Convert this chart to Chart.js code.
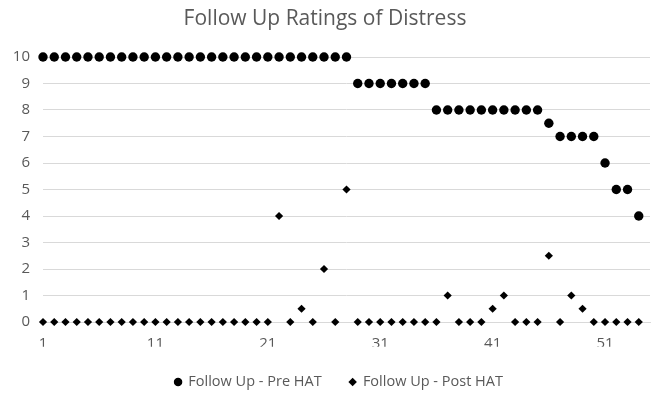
<!DOCTYPE html>
<html>
<head>
<meta charset="utf-8">
<script src="https://cdn.jsdelivr.net/npm/chart.js@4"></script>
<style>
  html, body { margin: 0; padding: 0; background: #ffffff; }
  #wrap { width: 661px; height: 395px; }
</style>
</head>
<body>
<div id="wrap"><canvas id="c" width="661" height="395"></canvas></div>
<script>
// Participant number (1..54)
const participants = [
  1, 2, 3, 4, 5, 6, 7, 8, 9, 10, 11, 12, 13, 14, 15, 16, 17, 18, 19, 20,
  21, 22, 23, 24, 25, 26, 27, 28, 29, 30, 31, 32, 33, 34, 35, 36, 37, 38, 39, 40,
  41, 42, 43, 44, 45, 46, 47, 48, 49, 50, 51, 52, 53, 54
];

// Distress rating before HAT
const preHAT = [
  10, 10, 10, 10, 10, 10, 10, 10, 10, 10, 10, 10, 10, 10, 10, 10, 10, 10, 10, 10,
  10, 10, 10, 10, 10, 10, 10, 10, 9, 9, 9, 9, 9, 9, 9, 8, 8, 8, 8, 8,
  8, 8, 8, 8, 8, 7.5, 7, 7, 7, 7, 6, 5, 5, 4
];

// Distress rating after HAT
const postHAT = [
  0, 0, 0, 0, 0, 0, 0, 0, 0, 0, 0, 0, 0, 0, 0, 0, 0, 0, 0, 0,
  0, 4, 0, 0.5, 0, 2, 0, 5, 0, 0, 0, 0, 0, 0, 0, 0, 1, 0, 0, 0,
  0.5, 1, 0, 0, 0, 2.5, 0, 1, 0.5, 0, 0, 0, 0, 0
];

const xTicks = [1, 11, 21, 31, 41, 51];
const yTicks = [0, 1, 2, 3, 4, 5, 6, 7, 8, 9, 10];

const seriesLabels = ['Follow Up - Pre HAT', 'Follow Up - Post HAT'];

const toPoints = (vals) => vals.map((v, i) => ({ x: participants[i], y: v }));

const textColor = '#595959';
const gridColor = '#d9d9d9';
const fontFamily = '"Open Sans", "Liberation Sans", sans-serif';
const legendPadding = 28;

// Chart.js counts the gap after the last legend item when centring the row;
// nudge the legend box by half that gap so the visible items sit centred.
const centreLegendRow = {
  id: 'centreLegendRow',
  afterLayout(chart) {
    const lg = chart.legend;
    if (!lg) return;
    lg.left += legendPadding / 2;
    lg.right += legendPadding / 2;
  }
};

new Chart(document.getElementById('c'), {
  type: 'scatter',
  data: {
    datasets: [
      {
        label: seriesLabels[0],
        data: toPoints(preHAT),
        pointStyle: 'circle',
        pointRadius: 4.7,
        pointHoverRadius: 4.7,
        backgroundColor: '#000000',
        borderColor: '#000000',
        borderWidth: 0,
        clip: false
      },
      {
        label: seriesLabels[1],
        data: toPoints(postHAT),
        pointStyle: 'rectRot',
        pointRadius: 4.1,
        pointHoverRadius: 4.1,
        backgroundColor: '#000000',
        borderColor: '#000000',
        borderWidth: 0,
        clip: false
      }
    ]
  },
  plugins: [centreLegendRow],
  options: {
    responsive: false,
    animation: false,
    layout: { padding: { left: 0, right: 11, top: 6, bottom: -4.25 } },
    plugins: {
      title: {
        display: true,
        text: 'Follow Up Ratings of Distress',
        color: textColor,
        font: { family: fontFamily, size: 21, weight: 'normal' },
        padding: { top: 0, bottom: 25.8 }
      },
      legend: {
        position: 'bottom',
        labels: {
          usePointStyle: true,
          color: textColor,
          font: { family: fontFamily, size: 14.5 },
          boxWidth: 6,
          boxHeight: 6,
          padding: legendPadding
        }
      },
      tooltip: { enabled: false }
    },
    scales: {
      x: {
        type: 'linear',
        min: 1,
        max: 55,
        afterBuildTicks: (scale) => { scale.ticks = xTicks.map(v => ({ value: v })); },
        afterFit: (scale) => { scale.height = 24.75; },
        grid: { display: false, drawTicks: false },
        border: { display: true, color: gridColor, width: 1 },
        ticks: {
          color: textColor,
          font: { family: fontFamily, size: 15 },
          padding: 13,
          maxRotation: 0
        }
      },
      y: {
        min: 0,
        max: 10,
        afterBuildTicks: (scale) => { scale.ticks = yTicks.map(v => ({ value: v })); },
        afterFit: (scale) => { scale.width = 43; },
        grid: { color: gridColor, lineWidth: 1, drawTicks: false },
        border: { display: false },
        ticks: {
          color: textColor,
          font: { family: fontFamily, size: 15 },
          padding: 13
        }
      }
    }
  }
});
</script>
</body>
</html>
